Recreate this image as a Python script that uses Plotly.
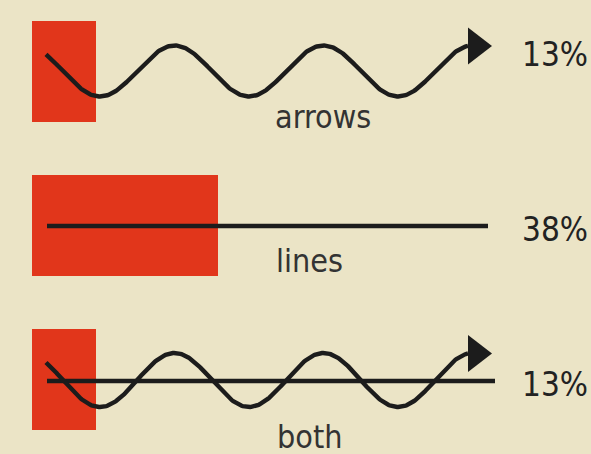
import numpy as np
import plotly.graph_objects as go

# data
categories = ["arrows", "lines", "both"]
values = [13, 38, 13]
value_labels = ["13%", "38%", "13%"]
has_wave = [True, False, True]
has_line = [False, True, True]

BG = "#ebe4c6"
RED = "#e1361b"
INK = "#1c1c1c"
FONT = "DejaVu Sans Condensed, DejaVu Sans, sans-serif"

W, H = 591, 454
PX_PER_PCT = 4.9
BAR_X0 = 32
ROW_Y = [71, 225, 380]
ROW_STEP = 154

fig = go.Figure()

fig.add_trace(
    go.Bar(
        x=values,
        y=categories,
        orientation="h",
        width=101 / ROW_STEP,
        marker={"color": RED, "line": {"width": 0}},
        hoverinfo="skip",
        xaxis="x",
        yaxis="y",
    )
)

# decorative glyphs (wavy "arrow" and straight "line"), drawn in pixel space
for i, cat in enumerate(categories):
    yc = ROW_Y[i]
    if has_line[i]:
        x_end = 488 if not has_wave[i] else 495
        fig.add_trace(
            go.Scatter(
                x=[47, x_end], y=[yc + 1, yc + 1], mode="lines",
                line={"color": INK, "width": 4.5},
                hoverinfo="skip", xaxis="x2", yaxis="y2",
            )
        )
    if has_wave[i]:
        amp = 25.5 if i == 0 else 27
        xs = np.linspace(46, 468, 400)
        ys = yc + amp * np.cos(2 * np.pi * (xs - 100) / 149)
        fig.add_trace(
            go.Scatter(
                x=xs, y=ys, mode="lines",
                line={"color": INK, "width": 4.4},
                hoverinfo="skip", xaxis="x2", yaxis="y2",
            )
        )
        fig.add_trace(
            go.Scatter(
                x=[476], y=[ys[-1]], mode="markers",
                marker={"symbol": "triangle-right", "size": 32, "color": INK},
                hoverinfo="skip", xaxis="x2", yaxis="y2",
            )
        )

label_x = [323, 309, 309]
label_dy = [46, 36, 57]
for i, cat in enumerate(categories):
    fig.add_annotation(
        x=label_x[i], y=ROW_Y[i] + label_dy[i], xref="x2", yref="y2",
        text=cat, showarrow=False,
        font={"family": FONT, "size": 32, "color": "#333333"},
    )
    fig.add_annotation(
        x=555, y=ROW_Y[i] + (-17 if has_wave[i] and not has_line[i] else 4),
        xref="x2", yref="y2",
        text=value_labels[i], showarrow=False,
        font={"family": FONT, "size": 33, "color": "#222222"},
    )

fig.update_layout(
    width=W,
    height=H,
    margin={"l": 0, "r": 0, "t": 0, "b": 0},
    paper_bgcolor=BG,
    plot_bgcolor=BG,
    showlegend=False,
    bargap=0,
    xaxis={
        "range": [-BAR_X0 / PX_PER_PCT, (W - BAR_X0) / PX_PER_PCT],
        "visible": False, "fixedrange": True,
    },
    yaxis={
        "type": "category",
        "categoryorder": "array",
        "categoryarray": categories,
        "range": [(H - ROW_Y[0]) / ROW_STEP, -ROW_Y[0] / ROW_STEP],
        "visible": False, "fixedrange": True,
    },
    xaxis2={"range": [0, W], "overlaying": "x", "visible": False, "fixedrange": True},
    yaxis2={"range": [H, 0], "overlaying": "y", "visible": False, "fixedrange": True},
)

fig.write_html(
    "out.html",
    config={"displayModeBar": False},
    post_script="document.body.style.margin='0';",
)
